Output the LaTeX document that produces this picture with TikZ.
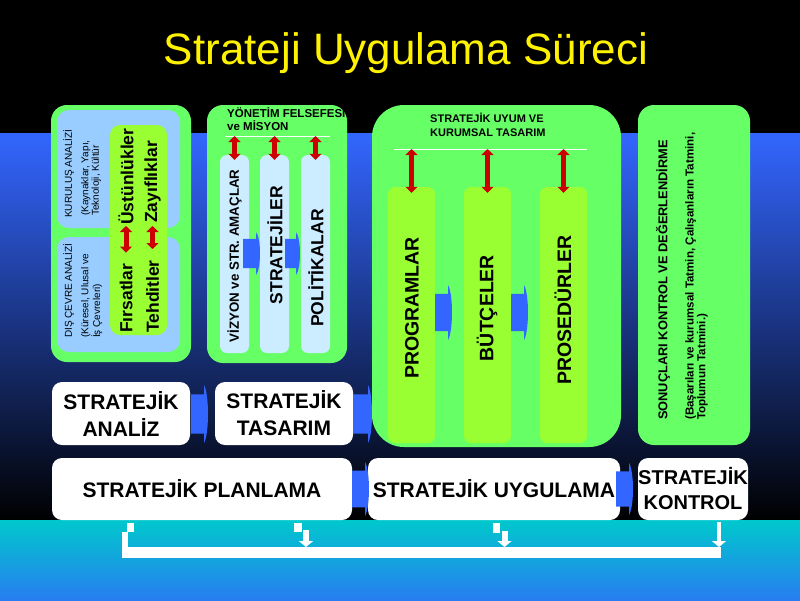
\documentclass[tikz,border=0pt]{standalone}
\usepackage{fontspec}
\setmainfont{Liberation Sans}
\usetikzlibrary{arrows.meta}

\definecolor{panelgreen}{RGB}{102,255,102}
\definecolor{limegreen}{RGB}{153,255,51}
\definecolor{swotblue}{RGB}{153,204,255}
\definecolor{colblue}{RGB}{204,236,255}
\definecolor{arrowblue}{RGB}{51,102,255}
\definecolor{arrowred}{RGB}{204,0,0}
\definecolor{skyblue}{RGB}{51,102,255}
\definecolor{seacyan}{RGB}{0,200,205}
\definecolor{seablue}{RGB}{40,125,240}

\tikzset{
  panel/.style={fill=panelgreen, rounded corners=16pt},
  stepbox/.style={fill=white, rounded corners=10pt, align=center, inner sep=0pt,
    font=\bfseries\fontsize{21}{27}\selectfont},
  column/.style={rounded corners=7pt, inner sep=0pt, minimum width=#1pt},
  vlabel/.style={rotate=90, inner sep=0pt, font=\bfseries\fontsize{19.5}{22}\selectfont},
  swot/.style={rotate=90, inner sep=0pt, anchor=west, font=\bfseries\fontsize{17.5}{20}\selectfont},
  smalllabel/.style={rotate=90, inner sep=0pt, align=left, font=\fontsize{10}{10.5}\selectfont},
  headlabel/.style={anchor=north west, align=left, inner sep=0pt, font=\bfseries\fontsize{11.5}{13.5}\selectfont},
  redarrow/.style={arrowred, line width=5pt, {Triangle[length=6pt,width=12pt]}-{Triangle[length=6pt,width=12pt]}},
  headline/.style={white, line width=1pt},
  fbarrow/.style={white, line width=6pt, -{Triangle[length=6pt,width=14pt]}},
}

\begin{document}
\begin{tikzpicture}[x=1pt, y=-1pt]
  \useasboundingbox (0,0) rectangle (800,600);
  % Background
  \fill[black] (0,0) rectangle (800,134);
  \shade[top color=skyblue, bottom color=black] (0,133) rectangle (800,521);
  \shade[top color=seacyan, bottom color=seablue] (0,520) rectangle (800,600);

  \node[font=\fontsize{44}{50}\selectfont, text=yellow] (title) at (406,53) {Strateji Uygulama Süreci};

  % Analysis panel
  \fill[panel] (51,105) rectangle (191,362);
  \fill[swotblue, rounded corners=12pt] (57,110) rectangle (180,228);
  \fill[swotblue, rounded corners=12pt] (57,237) rectangle (180,352);
  \fill[limegreen, rounded corners=10pt] (110,125) rectangle (167,335);
  \node[smalllabel, anchor=west] (kurulus) at (68.5,218) {KURULUŞ ANALİZİ};
  \node[smalllabel, anchor=north west] (kaynak) at (81,216) {(Kaynaklar, Yapı,\\Teknoloji, Kültür};
  \node[smalllabel, anchor=west] (discevre) at (68.5,338) {DIŞ ÇEVRE ANALİZİ};
  \node[smalllabel, anchor=north west] (kuresel) at (81,338) {(Küresel, Ulusal ve\\İş Çevreleri)};
  \node[swot] (firsat) at (126,333) {Fırsatlar};
  \node[swot] (ustun) at (126,225) {Üstünlükler};
  \node[swot] (tehdit) at (152.5,333) {Tehditler};
  \node[swot] (zayif) at (152.5,223) {Zayıflıklar};
  \draw[redarrow] ([yshift=-1pt]ustun.west) -- ([yshift=11pt]firsat.east);
  \draw[redarrow] ([yshift=-3pt]zayif.west) -- ([yshift=11pt]tehdit.east);

  % Design panel
  \fill[panel] (207,105) rectangle (347,363);
  \node[headlabel] (felsefe) at (227,107) {YÖNETİM FELSEFESİ\\ve MİSYON};
  \draw[headline] (225,136) coordinate (hdrM) -- (330,136);
  \foreach \n/\x in {vizyon/234.5, strat/274.5, polit/315.5}
    \node[column=29, fill=colblue, minimum height=198pt] (\n) at (\x,254) {};
  \node[vlabel, font=\bfseries\fontsize{13.3}{15}\selectfont] (vizyonlbl) at (234.5,256) {VİZYON ve STR. AMAÇLAR};
  \node[vlabel, font=\bfseries\fontsize{17.5}{20}\selectfont] (stratlbl) at (275,245) {STRATEJİLER};
  \node[vlabel, font=\bfseries\fontsize{17.5}{20}\selectfont] (politlbl) at (316,268) {POLİTİKALAR};
  \foreach \n in {vizyon,strat,polit}
    \draw[redarrow] (\n.north |- hdrM) -- ([yshift=-5pt]\n.north);

  % Implementation panel
  \fill[panel, rounded corners=32pt] (372,105) rectangle (621,447);
  \node[headlabel, font=\bfseries\fontsize{11}{14}\selectfont] (uyum) at (430,113) {STRATEJİK UYUM VE\\KURUMSAL TASARIM};
  \draw[headline] (394,149) coordinate (hdrU) -- (587,149);
  \foreach \n/\x in {progr/411.5, butce/487.5, prose/563.5}
    \node[column=47, fill=limegreen, minimum height=256pt] (\n) at (\x,315) {};
  \node[vlabel] (progrlbl) at (412,308) {PROGRAMLAR};
  \node[vlabel] (butcelbl) at (487,308) {BÜTÇELER};
  \node[vlabel] (proselbl) at (563,310) {PROSEDÜRLER};
  \foreach \n in {progr,butce,prose}
    \draw[redarrow] (\n.north |- hdrU) -- ([yshift=-6pt]\n.north);

  % Control panel
  \fill[panel] (638,105) rectangle (750,445);
  \node[rotate=90, anchor=west, inner sep=0pt, font=\bfseries\fontsize{12.8}{14}\selectfont] (sonuc) at (663,420) {SONUÇLARI KONTROL VE DEĞERLENDİRME};
  \node[rotate=90, anchor=north west, align=left, inner sep=0pt, font=\bfseries\fontsize{11.6}{9.8}\selectfont] (basari) at (685,420) {(Başarıları ve kurumsal Tatmin, Çalışanların Tatmini,\\Toplumun Tatmini.)};

  % Steps
  \node[stepbox, minimum width=138pt, minimum height=63pt] (analiz) at (121,413.5) {STRATEJİK\\ANALİZ};
  \node[stepbox, minimum width=138pt, minimum height=63pt] (tasarim) at (284,413.5) {STRATEJİK\\TASARIM};
  \node[stepbox, minimum width=300pt, minimum height=62pt] (planlama) at (202,489) {STRATEJİK PLANLAMA};
  \node[stepbox, minimum width=252pt, minimum height=62pt] (uygulama) at (494,489) {STRATEJİK UYGULAMA};
  \node[stepbox, minimum width=110pt, minimum height=62pt, font=\bfseries\fontsize{20}{25}\selectfont] (kontrol) at (693,489) {STRATEJİK\\KONTROL};

  % Blue arrows
  \foreach \xa/\xb/\ya/\yb in {243/260/232/275, 285/300/232/275, 435/452/285/340, 511/528/285/340,
      191/208/385/443, 353/372/385/443, 352/369/462/516, 616/633/463/515}
  {
    \pgfmathsetmacro\yc{\ya+0.16*(\yb-\ya)}
    \pgfmathsetmacro\yd{\yb-0.16*(\yb-\ya)}
    \pgfmathsetmacro\xm{\xb-4}
    \pgfmathsetmacro\xc{\xb+1.3}
    \fill[arrowblue] (\xa,\yc) -- (\xm,\yc) -- (\xm,\ya) .. controls (\xc,\yc) and (\xc,\yd) .. (\xm,\yb)
      -- (\xm,\yd) -- (\xa,\yd) -- cycle;
  }

  % Feedback
  \coordinate (fbL) at (122,552);
  \coordinate (fbR) at (721,552);
  \draw[white, line width=11pt] (fbL) -- (fbR);
  \fill[white] (122,532) rectangle (128,557);
  \fill[white] (127,523) rectangle (134,532);
  \fill[white] (294,523) rectangle (302,532);
  \fill[white] (493,523) rectangle (500,533);
  \draw[fbarrow] (306,530) -- (306,547);
  \draw[fbarrow] (504.5,531) -- (504.5,547);
  \draw[fbarrow, line width=4pt] (719,522) -- (719,547);
\end{tikzpicture}
\end{document}
